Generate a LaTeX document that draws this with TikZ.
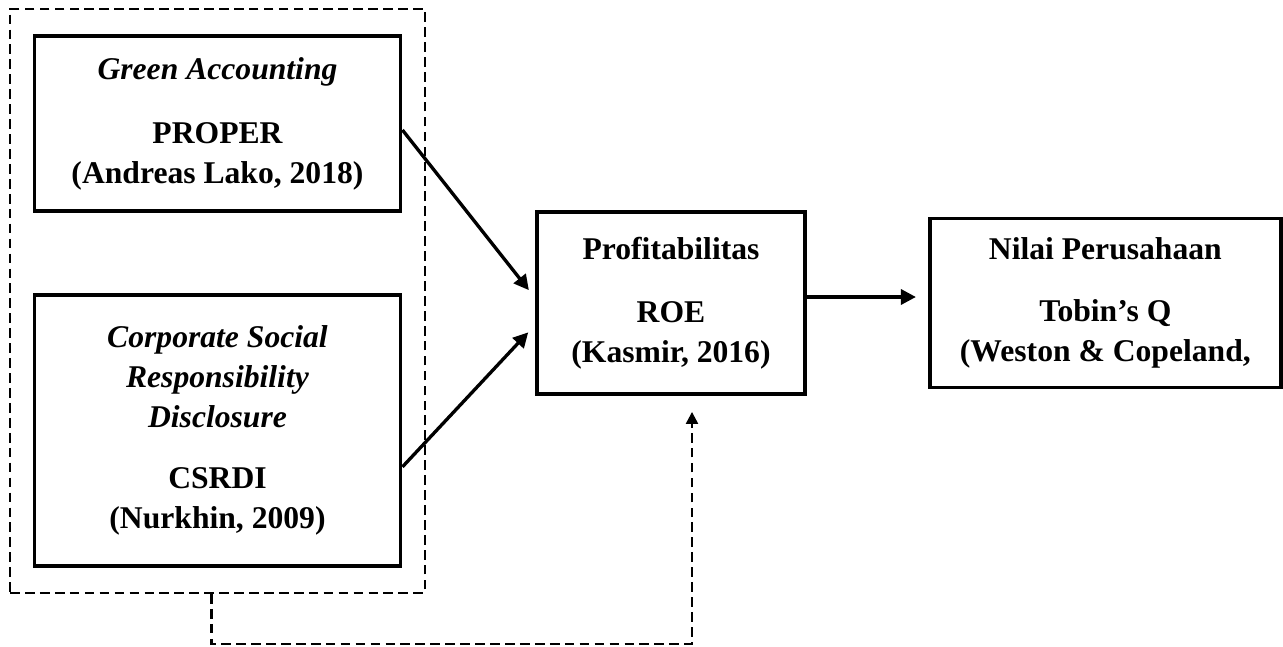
\documentclass[tikz,border=0pt]{standalone}
\usepackage{fontspec}
\setmainfont{Liberation Serif}
\usetikzlibrary{arrows.meta,positioning,fit}

\begin{document}
\begin{tikzpicture}[
    node distance=1.6cm and 2.42cm,
    box/.style={draw, line width=2.2pt, align=center, inner sep=0pt,
      font=\fontsize{18}{22.8}\selectfont\bfseries},
    group/.style={draw, line width=1.3pt, dash pattern=on 5.5pt off 3pt},
    arrow/.style={-{Triangle[length=3mm, width=3mm]}, line width=1.9pt, shorten >=0.2cm},
    dasharrow/.style={-{Triangle[length=2.4mm, width=2.4mm]}, line width=1.3pt,
      dash pattern=on 5.5pt off 3pt, shorten >=0.32cm}
  ]
    \useasboundingbox (0,0) rectangle (25.66,12.92);

    \node[box, minimum width=7.32cm, minimum height=3.5cm] (green) at (4.35,10.45)
      {\textit{Green Accounting}\\[0.48cm]PROPER\\(Andreas Lako, 2018)};
    \node[box, below=of green, minimum width=7.32cm, minimum height=5.42cm] (csr)
      {\textit{Corporate Social}\\\textit{Responsibility}\\\textit{Disclosure}\\[0.42cm]CSRDI\\(Nurkhin, 2009)};

    \node[group, fit=(green)(csr), inner xsep=0.45cm, inner ysep=0.5cm] (variabel) {};

    \node[box, minimum width=5.36cm, minimum height=3.64cm] (prof) at (13.42,6.86)
      {Profitabilitas\\[0.45cm]ROE\\(Kasmir, 2016)};
    \node[box, right=of prof, minimum width=7.02cm, minimum height=3.38cm] (nilai)
      {Nilai Perusahaan\\[0.45cm]Tobin’s Q\\(Weston \& Copeland,};

    \draw[arrow] ([yshift=-0.13cm]green.east) -- ([yshift=0.1cm]prof.west);
    \draw[arrow] ([yshift=-0.73cm]csr.east) -- ([yshift=-0.44cm]prof.west);
    \draw[arrow, shorten >=0.24cm] ([yshift=0.12cm]prof.east) -- ([yshift=0.12cm]prof.east -| nilai.west);
    \draw[dasharrow] ([xshift=-0.12cm]variabel.south) -- ++(0,-1.0) -| ([xshift=0.42cm]prof.south);
  \end{tikzpicture}
\end{document}
